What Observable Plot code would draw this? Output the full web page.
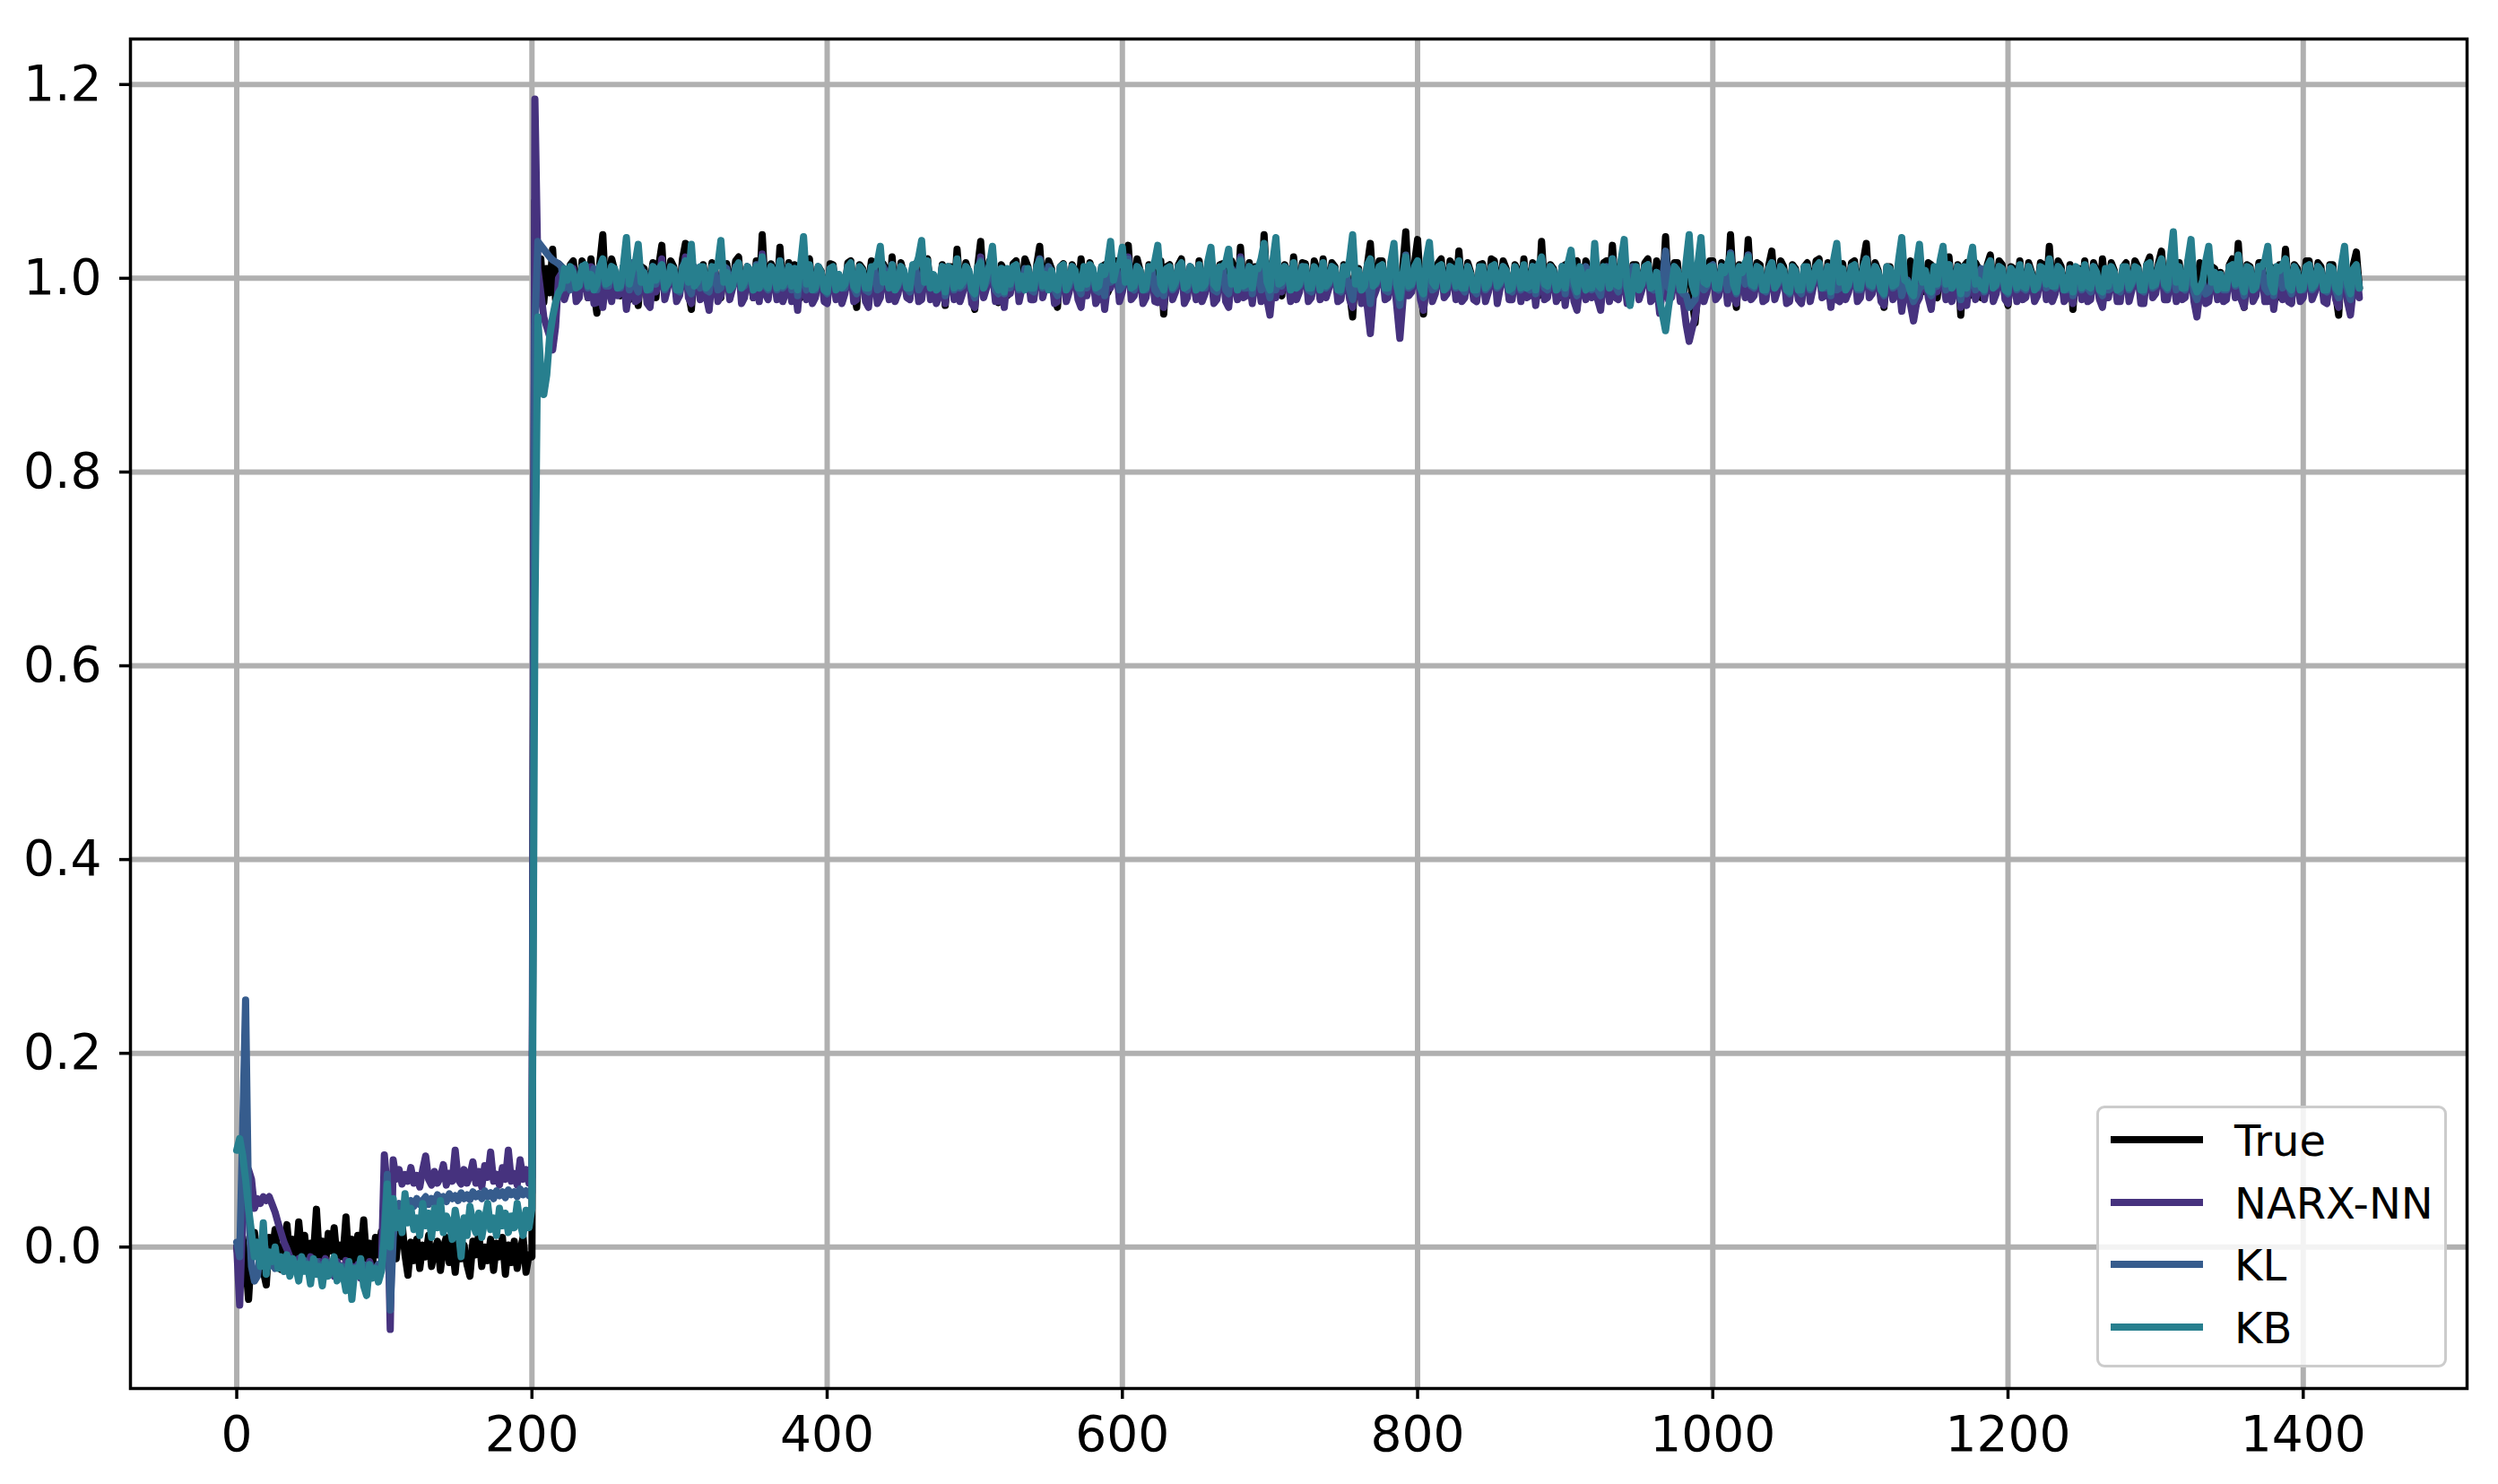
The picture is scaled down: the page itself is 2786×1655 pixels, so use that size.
<!DOCTYPE html>
<html>
<head>
<meta charset="utf-8">
<script src="https://cdn.jsdelivr.net/npm/d3@7"></script>
<script src="https://cdn.jsdelivr.net/npm/@observablehq/plot@0.6"></script>
<style>
  html, body { margin: 0; padding: 0; background: #ffffff; }
  #wrap { position: relative; width: 2786px; height: 1655px; }
  #legend { position: absolute; left: 2338px; top: 1233px; width: 391px; height: 292px;
    box-sizing: border-box; border: 3px solid #cccccc; border-radius: 9px;
    background: rgba(255,255,255,0.85); font-family: "DejaVu Sans", sans-serif; }
  .sw { position: absolute; left: 13px; width: 103px; height: 8px; }
  .lb { position: absolute; left: 151px; font-size: 48px; line-height: 48px; color: #000; white-space: nowrap; }
</style>
</head>
<body>
<div id="wrap"><div id="chart"></div><div id="legend"></div></div>
<script>
// Time steps: every 2 samples
const stepsEarly = d3.range(0, 220, 2);
const stepsLate = d3.range(220, 1440, 2);
const steps = [...stepsEarly, ...stepsLate];

const seriesNames = ["True", "NARX-NN", "KL", "KB"];
const seriesColors = ["#000000", "#46327e", "#365c8d", "#277f8e"];

// Values in thousandths (value = entry / 1000)
const trueVals = [
  0,-20,10,-15,-54,-5,15,-10,5,-25, -39,10,-8,18,-12,-23,5,23,-10,8, -15,26,-6,12,-18,4,-8,39,-12,6, -20,14,-4,20,-14,2,-10,31,-16,8, -22,12,-6,28,-14,4,-18,10,-8,16,
  -6,4,-18,10,-12,20,25,-8,-29,5, -14,8,-22,2,-10,12,-20,-4,6,-24, 0,10,-16,4,-26,8,-12,2,-18,-30, 6,-8,14,-20,0,-14,8,-24,4,-10, 10,-28,2,-16,6,-22,-4,10,-26,-8,
  -10,1080,990,1020,975,1010,985,1030,978,1015,
  1012,984,992,1014,1018,988,985,1018,1005,980,1020,986,964,1016,1045,982,990,1020,1008,985,982,1012,1015,978,1003,986,972,1012,1010,982,995,1016,980,1014,1034,984,992,1018,1012,988,985,1020,1036,986,968,1010,1005,982,1014,988,
  988,1016,1008,982,980,1014,1015,988,994,1018,1022,985,986,1012,1004,980,1018,986,1045,990,984,1015,1006,982,1032,988,990,1016,978,1014,1012,980,996,1018,1020,986,982,1012,1007,984,975,1015,1014,982,1003,986,988,1016,1018,988,
  970,1014,1010,984,995,1018,1016,988,982,1015,1008,980,1022,986,988,1016,1004,982,980,1012,1015,985,992,1018,1020,988,1003,980,985,1014,972,1012,1012,982,1030,990,990,1016,1006,980,968,1012,1038,992,994,1018,1012,984,975,1014,
  1008,982,986,1015,1018,988,994,1020,1012,984,980,1014,1033,990,996,1018,1010,980,970,1012,1015,984,988,1014,1006,982,1020,988,984,1016,1004,980,978,1012,1014,985,992,1018,1018,986,990,1016,1034,988,985,1020,1008,984,982,1014,
  1012,985,994,1018,963,1012,1014,984,990,1014,1020,982,984,1012,1006,980,1018,986,988,1016,1010,982,980,1014,1015,988,996,1018,1008,980,1032,990,986,1016,978,1012,1010,982,1045,990,992,1018,1016,984,982,1014,1006,980,1022,988,
  990,1016,1015,986,982,1018,1008,980,1020,988,994,1016,1012,982,980,1014,1006,984,960,1010,1010,980,988,1014,1036,990,992,1018,1018,986,985,1016,1004,982,978,1012,1048,992,995,1016,1040,990,963,1012,1014,982,990,1016,1020,986,
  992,1018,1012,986,1028,988,986,1016,1006,982,978,1014,1015,984,990,1020,1018,988,996,1018,1010,984,982,1014,1008,980,1020,986,988,1016,1004,982,1038,990,984,1014,1010,984,980,1012,1014,982,994,1016,1018,986,988,1018,1006,984,
  1010,982,985,1016,1018,990,1034,988,988,1018,1006,984,980,1014,1014,982,992,1016,1020,986,986,1018,1008,984,1043,988,990,1016,1016,986,982,1012,1022,980,954,990,1012,984,994,1018,1018,986,988,1016,1010,988,1045,992,970,1014,
  1008,990,1040,988,990,1016,1014,982,984,1014,1028,988,994,1018,1012,984,982,1014,1010,982,975,1012,1016,986,996,1018,1020,984,988,1016,1006,980,980,1014,1015,982,992,1016,1018,988,986,1018,1036,990,990,1016,1008,986,970,1012,
  1012,984,992,1014,1020,988,986,1018,1006,980,1018,986,990,1016,1014,982,980,1012,1008,984,1022,988,994,1014,962,1012,1016,982,988,1016,1010,980,982,1014,1024,988,992,1018,1014,984,972,1012,1010,982,1018,986,988,1016,1006,982,
  990,1016,1014,988,1033,990,992,1018,1012,984,984,1014,968,1010,1010,982,1018,986,988,1016,1006,980,1020,988,986,1016,1008,982,980,1012,1016,984,994,1018,1012,980,982,1014,1022,988,990,1016,1028,990,986,1018,1008,984,1016,986,
  988,1018,1018,986,992,1016,1014,980,980,1012,1010,982,1006,984,984,1014,1020,990,1036,988,970,1014,1012,982,990,1016,1016,986,982,1012,1008,980,1014,988,1030,990,975,1014,1010,984,986,1018,1018,988,994,1016,1012,982,980,1014,
  1014,984,962,1012,1010,982,988,1014,1027,990
];

const narxVals = [
  0,-60,30,50,80,70,40,50,45,52, 48,52,44,36,25,15,5,-2,-10,-15, -20,-12,-25,-15,-22,-10,-18,-28,-15,-20, -12,-25,-18,-30,-15,-22,-28,-14,-30,-20, -26,-18,-32,-20,-28,-15,-25,-30,-18,-22,
  95,60,-85,90,70,80,65,75,68,82, 66,74,62,80,94,70,64,78,66,72, 85,64,76,68,100,70,65,80,66,74, 88,66,78,62,84,72,98,68,75,64, 82,70,100,68,76,64,90,70,80,66,
  72,1185,1010,985,960,950,940,926,950,1000,
  1005,978,988,1006,1010,976,980,1004,1000,980,1012,974,975,1002,970,996,992,976,1004,982,985,1004,968,990,1000,976,978,1002,1006,974,970,1000,986,996,1020,978,990,1006,1008,976,982,1002,1022,980,974,1004,1000,978,1008,982,
  967,1000,1004,976,982,1004,1008,978,990,1006,1014,974,980,1004,1000,980,1010,976,1025,984,978,1006,1002,978,1018,976,986,1002,976,996,967,1000,992,978,1012,974,980,1004,1004,976,974,1002,1008,978,996,974,984,1004,1010,976,
  978,1004,1004,976,970,1000,1010,974,980,1006,1002,978,1014,976,984,1004,1000,980,978,1006,1008,976,978,1002,1012,978,996,974,982,1004,974,1000,1006,978,1018,976,986,1002,1002,974,970,1002,1022,980,990,1004,1006,976,976,1002,
  970,1000,984,1004,1010,976,990,1002,1006,978,978,1004,1020,980,992,1006,1004,974,976,1002,1008,976,986,1006,1000,978,970,998,982,1004,1002,974,980,1000,968,994,990,1006,1010,976,986,1004,1022,978,982,1002,1002,974,980,1004,
  1006,976,975,996,970,1000,1008,978,986,1004,1014,974,980,1006,1000,978,1010,976,984,1004,1004,974,978,1002,1008,976,970,1000,1002,978,1022,980,982,1004,974,998,1004,976,1030,978,962,994,980,1002,986,1004,1000,976,1014,978,
  986,1004,1010,976,980,1002,1002,978,1014,980,990,1004,1006,976,978,1002,1000,978,970,996,1004,974,984,970,943,980,988,1004,1010,978,980,1002,1000,970,938,976,1020,982,986,1004,1010,978,967,996,1006,976,984,1002,1012,980,
  984,1004,1006,978,1014,976,980,1004,1000,978,976,1002,1008,976,986,1004,1010,974,990,1006,1004,978,978,1002,1000,976,1012,980,982,1004,972,998,1020,978,980,1002,1004,976,984,1004,972,996,1000,976,967,994,992,978,1002,980,
  1002,978,967,1000,1008,976,1020,980,978,1004,1000,974,984,1004,1008,978,988,1002,1010,976,980,994,964,990,1024,978,980,1002,1004,976,976,952,935,948,960,980,1006,976,986,1002,1010,978,982,1004,1004,974,1026,980,974,1002,
  1000,980,1024,978,982,1004,1006,976,978,1002,1014,978,988,1004,1004,974,976,1000,1002,978,974,998,1008,976,990,1004,1012,980,982,996,970,994,978,976,1006,978,986,1004,1010,976,980,1002,1020,980,984,1004,1000,976,972,998,
  1004,978,984,996,966,988,994,972,956,974,980,1002,1004,980,968,998,986,1002,1000,978,1012,976,988,1002,970,990,972,998,1006,978,990,1004,978,996,1014,976,984,1002,1006,978,974,1002,1000,976,1010,978,980,1000,998,976,
  982,1004,1006,978,1018,976,984,1002,1002,976,980,1002,974,996,1004,978,1010,976,978,1004,1000,978,970,994,980,1004,1002,976,976,1002,1008,976,988,1004,1004,974,974,1002,1014,980,984,1004,1016,978,978,1000,1000,976,1006,978,
  980,1002,1006,976,960,986,990,974,976,1000,1002,978,1000,976,978,1004,1008,980,1020,978,970,1000,1004,976,982,1004,1008,976,976,1002,968,992,1006,978,1018,976,974,1002,1000,976,980,1004,1008,978,986,1004,1002,976,974,1000,
  1004,978,970,1002,1000,976,962,990,1010,980
];

const klVals = [
  5,-10,120,255,40,-20,-35,-30,-5,10, -10,-20,-15,-22,-10,-18,-25,-12,-20,-15, -22,-18,-24,-14,-20,-18,-26,-15,-22,-18, -24,-16,-22,-28,-18,-24,-20,-26,-18,-24, -22,-20,-28,-18,-24,-20,-26,-22,-18,-24,
  20,75,-65,10,40,45,38,46,40,48, 42,50,44,48,52,44,50,46,54,48, 52,47,55,50,53,48,56,50,54,49, 57,52,55,50,58,52,56,50,58,53, 57,51,59,54,57,52,60,54,58,53,
  56,950,1038,1034,1030,1026,1022,1019,1017,1015,
  1012,990,1008,988,1004,992,994,1012,1010,990,998,1010,988,1012,1014,992,992,1012,1006,990,990,1012,1010,988,1016,992,986,1010,1004,988,988,1012,994,1010,1012,988,996,1010,1008,988,986,1012,1016,990,984,1012,1002,990,1010,988,
  986,1010,1006,988,990,1012,1010,990,996,1012,1012,990,992,1012,1002,988,1014,990,1020,992,988,1012,1004,988,1016,990,994,1012,988,1010,982,1008,1000,988,1010,990,988,1012,1004,988,984,1010,1010,988,1000,990,990,1012,1012,990,
  984,1010,1006,988,986,1010,1010,988,990,1012,1004,990,1012,988,992,1012,1002,990,986,1012,1010,988,994,1012,1016,990,1000,988,990,1012,982,1008,1008,988,1016,990,992,1012,1004,988,980,1008,1018,990,996,1012,1008,988,984,1010,
  984,1008,990,1010,1012,988,996,1010,1008,988,986,1010,1020,990,998,1012,1006,988,982,1010,1010,988,992,1012,1004,990,984,1008,990,1012,1004,988,986,1010,982,1008,996,1012,1012,988,992,1010,1020,990,988,1012,1004,988,988,1010,
  1008,988,984,1008,982,1010,1010,988,992,1012,1014,990,988,1012,1002,988,1012,990,990,1012,1006,988,986,1010,1010,988,984,1010,1004,988,1020,990,990,1012,984,1010,1008,988,1024,992,980,1008,988,1010,992,1012,1004,988,1014,990,
  992,1012,1010,988,986,1010,1004,988,1014,990,994,1012,1008,988,986,1010,1002,988,978,1006,1006,988,990,1004,974,1002,994,1010,1012,988,986,1010,1002,992,972,996,1024,990,992,1012,1016,990,980,1010,1008,988,990,1010,1012,988,
  990,1012,1008,990,1016,990,986,1012,1002,988,984,1010,1010,988,992,1012,1012,990,994,1012,1006,988,986,1010,1002,988,1012,990,988,1012,984,1010,1020,990,988,1012,1006,988,990,1012,984,1008,1002,990,982,1008,996,1012,1004,988,
  1006,988,982,1008,1012,990,1020,992,986,1012,1004,988,988,1012,1010,988,994,1012,1014,990,988,1006,980,998,1028,990,988,1012,1008,988,984,982,970,974,978,994,1010,988,992,1012,1014,990,988,1012,1006,988,1026,994,984,1010,
  1004,994,1024,992,990,1012,1008,988,986,1010,1016,990,994,1012,1006,988,984,1010,1006,988,984,1010,1010,988,996,1012,1014,990,990,1012,982,1006,988,990,1008,988,992,1012,1012,988,988,1010,1020,992,990,1012,1004,988,982,1010,
  1008,990,992,1010,982,994,998,986,976,982,990,992,1006,988,982,994,992,1008,1002,988,1014,990,994,1012,978,994,984,998,1008,988,996,1010,986,1008,1016,990,992,1012,1008,988,984,1010,1004,988,1012,990,988,1012,1002,990,
  990,1010,1008,990,1018,992,990,1012,1006,988,988,1010,982,994,1006,988,1012,990,986,1012,1004,988,982,1006,988,990,1004,988,986,1010,1010,988,994,1010,1008,988,986,1010,1014,990,992,1012,1018,992,988,1012,1004,988,1010,990,
  988,1010,1010,986,978,990,996,984,986,994,1006,990,1004,988,988,1012,1012,992,1022,994,982,1010,1008,988,990,1012,1010,990,986,1008,982,1006,1008,990,1018,992,984,1012,1004,988,988,1010,1012,988,992,1012,1006,988,986,1010,
  1008,988,980,1008,1004,988,978,1006,1012,990
];

const kbVals = [
  100,112,95,70,40,15,-10,5,-20,25, -28,-5,-15,0,-22,-10,-25,-8,-30,-12, -20,-35,-10,-25,-18,-38,-12,-28,-20,-40, -15,-30,-22,-10,-35,-20,-28,-45,-15,-54, -22,-30,-12,-40,-50,-18,-32,-22,-36,-25,
  10,65,0,50,20,35,15,55,25,40, 18,30,12,45,22,35,10,40,20,48, 15,32,25,8,38,20,-10,30,12,42, 25,15,35,10,28,45,18,30,12,40, 22,35,15,32,20,45,25,12,38,20,
  40,650,960,905,880,900,940,960,975,985,
  990,1010,998,1012,1006,990,992,1012,1014,992,1004,988,994,1012,1020,994,996,1012,1010,990,992,1014,1042,994,1008,1016,1035,996,1006,988,990,1012,998,1010,1014,990,994,1012,1010,988,988,1010,1018,996,1035,992,996,1012,1012,990,
  994,1012,1010,1014,1039,996,1006,988,992,1010,1016,990,996,1012,1008,988,1012,990,1022,994,990,1012,1006,990,1018,992,998,1012,992,1010,988,1014,1043,994,1014,988,990,1012,1006,988,986,1010,1012,988,1004,990,994,1012,1016,992,
  988,1012,1008,990,990,1012,1012,1016,1033,996,1004,990,1014,988,994,1012,1008,990,990,1014,1012,1022,1039,996,1018,990,1004,988,992,1012,986,1012,1010,990,1020,992,996,1012,1008,988,984,1012,1016,990,1002,1014,1033,994,988,1010,
  986,1010,994,1012,1014,990,1002,988,1010,990,990,1012,1018,992,1004,988,1008,990,988,1012,1014,988,996,1012,1008,990,990,1012,994,1014,1010,990,992,1012,1004,1016,1038,998,1012,1014,1032,996,1016,990,992,1012,1008,988,990,1012,
  1010,1018,1034,994,988,1010,1012,990,996,1012,1016,990,992,1012,1006,988,1014,990,994,1018,1032,994,990,1012,1012,1016,1030,994,1006,988,1018,992,994,1012,990,1010,1010,1020,1036,996,988,1018,1042,994,996,1012,1008,988,1016,990,
  994,1012,1012,990,990,1012,1006,988,1016,992,996,1012,1010,988,988,1012,1004,1020,1045,994,1008,988,992,1014,1020,992,996,1012,1014,990,990,1018,1036,992,980,1004,1022,992,994,1012,1018,990,984,1020,1037,996,992,1012,1014,988,
  992,1012,1010,992,1018,990,990,1012,1004,988,988,1012,1012,990,994,1012,1014,992,996,1012,1008,988,990,1012,1004,990,1014,990,992,1012,988,1014,1022,994,992,1012,1008,988,994,1012,990,1016,1029,996,986,1012,1000,988,1006,990,
  1036,994,990,1012,1010,990,1020,994,992,1020,1040,990,972,994,1012,988,994,1012,1014,990,992,1006,978,962,946,970,990,1012,1008,988,988,1018,1045,994,984,1016,1042,996,994,1012,1012,990,990,1012,1006,1014,1024,994,986,1012,
  1006,1016,1022,994,992,1012,1010,988,988,1010,1016,990,996,1012,1008,988,986,1012,1008,988,988,1012,1012,990,998,1012,1016,990,992,1012,986,1020,1036,996,1010,988,994,1012,1014,990,990,1012,1020,994,992,1012,1006,988,984,1012,
  1010,992,994,1020,1042,998,996,986,982,1014,1035,996,1008,988,986,1012,994,1018,1033,994,1014,990,996,1012,984,1012,990,1016,1032,994,998,990,988,1012,1018,990,994,1012,1010,988,986,1010,1006,990,1014,992,990,1012,1004,988,
  992,1012,1010,994,1020,992,992,1012,1008,988,990,1010,986,1012,1008,990,1014,992,990,1012,1006,988,986,1010,992,1012,1006,988,990,1012,1012,990,996,1012,1010,988,988,1014,1016,992,994,1012,1020,994,990,1020,1048,996,1012,990,
  990,1020,1040,994,986,990,998,1018,1033,996,1006,988,1004,990,990,1012,1014,994,1024,996,986,1012,1010,988,992,1012,1012,1018,1033,994,986,1012,1008,1014,1020,992,988,1012,1006,988,990,1012,1014,990,994,1012,1008,988,988,1012,
  1010,990,986,1014,1033,994,984,1010,1014,990
];

const xTicks = [0, 200, 400, 600, 800, 1000, 1200, 1400];
const yTicks = [0, 0.2, 0.4, 0.6, 0.8, 1.0, 1.2];

const seriesArrays = [trueVals, narxVals, klVals, kbVals];
seriesArrays.forEach((a, k) => {
  if (a.length !== steps.length) console.warn(seriesNames[k], a.length, steps.length);
});
const n = Math.min(steps.length, d3.min(seriesArrays, a => a.length));
const tables = seriesArrays.map((arr, k) =>
  d3.range(n).map(i => ({ t: steps[i], v: arr[i] / 1000, s: seriesNames[k] }))
);

const font = "DejaVu Sans, sans-serif";
const chart = Plot.plot({
  width: 2786,
  height: 1655,
  marginLeft: 145,
  marginRight: 35,
  marginTop: 43,
  marginBottom: 107,
  style: { background: "white", fontFamily: font, color: "black", overflow: "visible" },
  x: { domain: [-72, 1511] },
  y: { domain: [-0.146, 1.247] },
  marks: [
    Plot.gridX(xTicks, { stroke: "#b0b0b0", strokeOpacity: 1, strokeWidth: 6 }),
    Plot.gridY(yTicks, { stroke: "#b0b0b0", strokeOpacity: 1, strokeWidth: 6 }),
    ...tables.map((tb, k) => Plot.line(tb, {
      x: "t", y: "v", stroke: seriesColors[k], strokeWidth: 8,
      strokeLinejoin: "round", strokeLinecap: "round"
    })),
    Plot.frame({ stroke: "black", strokeWidth: 3.5 }),
    Plot.axisX(xTicks, { tickSize: 12, tickPadding: 18, fontSize: 55, strokeWidth: 3.5, label: null, tickFormat: d => String(d) }),
    Plot.axisY(yTicks, { tickSize: 12, tickPadding: 20, fontSize: 55, strokeWidth: 3.5, label: null, tickFormat: d => d.toFixed(1) })
  ]
});
document.getElementById("chart").appendChild(chart);

// Legend (inside plot area, lower right)
const legend = document.getElementById("legend");
const rowCenters = [35, 105, 174, 244];
seriesNames.forEach((name, k) => {
  const sw = document.createElement("div");
  sw.className = "sw";
  sw.style.top = (rowCenters[k] - 4) + "px";
  sw.style.background = seriesColors[k];
  legend.appendChild(sw);
  const lb = document.createElement("div");
  lb.className = "lb";
  lb.style.top = (rowCenters[k] - 23) + "px";
  lb.textContent = name;
  legend.appendChild(lb);
});
</script>
</body>
</html>
